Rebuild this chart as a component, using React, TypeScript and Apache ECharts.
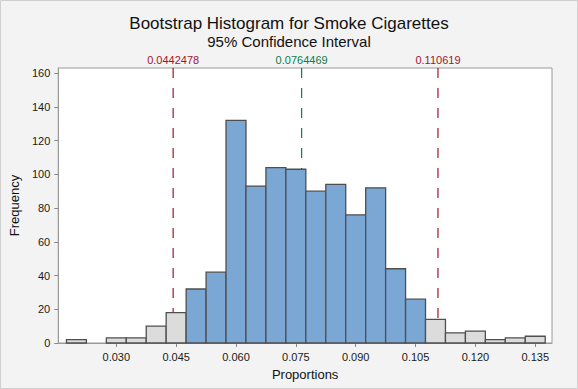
import React, { useEffect, useRef } from "react";
import * as echarts from "echarts";

const binCenters = [0.02, 0.025, 0.03, 0.035, 0.04, 0.045, 0.05, 0.055, 0.06, 0.065, 0.07, 0.075, 0.08, 0.085, 0.09, 0.095, 0.1, 0.105, 0.11, 0.115, 0.12, 0.125, 0.13, 0.135];
const counts = [2, 0, 3, 3, 10, 18, 32, 42, 132, 93, 104, 103, 90, 94, 76, 92, 44, 26, 14, 6, 7, 2, 3, 4];
const binWidth = 0.005;
const ciLower = 0.0442478;
const ciMean = 0.0764469;
const ciUpper = 0.110619;
const refValues = [ciLower, ciMean, ciUpper];
const refLabels = ["0.0442478", "0.0764469", "0.110619"];
const xTicks = [0.03, 0.045, 0.06, 0.075, 0.09, 0.105, 0.12, 0.135];
const yTicks = [0, 20, 40, 60, 80, 100, 120, 140, 160];
const titleText = "Bootstrap Histogram for Smoke Cigarettes";
const subtitleText = "95% Confidence Interval";

const FONT = "'Liberation Sans', Arial, Helvetica, sans-serif";
const RED = "#A3142E";
const GREEN = "#0E7D45";

export default function App() {
  const ref = useRef<HTMLDivElement>(null);
  useEffect(() => {
    document.body.style.margin = "0";
    const chart = echarts.init(ref.current!, null, { renderer: "svg" });
    const yMax = 163;
    chart.setOption({
      animation: false,
      backgroundColor: "#F3F3F3",
      textStyle: { fontFamily: FONT },
      graphic: [
        {
          type: "rect",
          shape: { x: 0.5, y: 0.5, width: 577, height: 388 },
          style: { fill: "none", stroke: "#D0D0D0", lineWidth: 1 },
          silent: true,
        },
        {
          type: "text",
          x: 289,
          y: 23,
          style: {
            text: titleText,
            fontSize: 17,
            fontFamily: FONT,
            fill: "#111",
            align: "center",
            verticalAlign: "middle",
          },
        },
        {
          type: "text",
          x: 289,
          y: 41.5,
          style: {
            text: subtitleText,
            fontSize: 15,
            fontFamily: FONT,
            fill: "#111",
            align: "center",
            verticalAlign: "middle",
          },
        },
      ],
      grid: {
        left: 57,
        right: 26,
        top: 68,
        bottom: 46,
        show: true,
        backgroundColor: "#FFFFFF",
        borderColor: "#9A9A9A",
        borderWidth: 1,
      },
      xAxis: {
        type: "value",
        min: 0.01545,
        max: 0.1392,
        name: "Proportions",
        nameLocation: "middle",
        nameGap: 25,
        nameTextStyle: { fontSize: 13, color: "#111", fontFamily: FONT },
        axisLine: { show: true, lineStyle: { color: "#9A9A9A" } },
        axisTick: { show: true, length: 4, lineStyle: { color: "#888" }, customValues: xTicks },
        axisLabel: {
          fontSize: 11,
          color: "#1a1a1a",
          margin: 8,
          customValues: xTicks,
          formatter: (v: number) => v.toFixed(3),
        },
        splitLine: { show: false },
      },
      yAxis: {
        type: "value",
        min: 0,
        max: yMax,
        name: "Frequency",
        nameLocation: "middle",
        nameGap: 35,
        nameTextStyle: { fontSize: 13, color: "#111", fontFamily: FONT },
        axisLine: { show: true, lineStyle: { color: "#9A9A9A" } },
        axisTick: { show: true, length: 4, lineStyle: { color: "#888" }, customValues: yTicks },
        axisLabel: { fontSize: 11, color: "#1a1a1a", margin: 8, customValues: yTicks },
        splitLine: { show: false },
      },
      series: [
        {
          type: "custom",
          z: 1,
          data: refValues.map((v, i) => [v, i]),
          renderItem: (params: any, api: any) => {
            const v = api.value(0);
            const i = api.value(1);
            const top = api.coord([v, yMax]);
            const bot = api.coord([v, 0]);
            const color = i === 1 ? GREEN : RED;
            return {
              type: "group",
              children: [
                {
                  type: "line",
                  shape: { x1: top[0], y1: top[1], x2: bot[0], y2: bot[1] },
                  style: { stroke: color, lineWidth: 1.2, lineDash: [10, 10] },
                },
                {
                  type: "text",
                  x: top[0],
                  y: top[1] - 8.5,
                  style: {
                    text: refLabels[i],
                    fill: color,
                    fontSize: 11,
                    fontFamily: FONT,
                    align: "center",
                    verticalAlign: "middle",
                  },
                },
              ],
            };
          },
        },
        {
          type: "custom",
          z: 2,
          data: binCenters.map((c, i) => [c, counts[i]]),
          renderItem: (params: any, api: any) => {
            const c = api.value(0);
            const n = api.value(1);
            if (!n) return null;
            const lo = c - binWidth / 2;
            const hi = c + binWidth / 2;
            const p0 = api.coord([lo, n]);
            const p1 = api.coord([hi, 0]);
            const inside = lo >= ciLower && hi <= ciUpper;
            return {
              type: "rect",
              shape: { x: p0[0], y: p0[1], width: p1[0] - p0[0], height: p1[1] - p0[1] },
              style: {
                fill: inside ? "#7BA7D5" : "#DCDCDC",
                stroke: "#4F4F4F",
                lineWidth: 1.3,
              },
            };
          },
        },
      ],
    });
    return () => chart.dispose();
  }, []);
  return <div ref={ref} style={{ width: 578, height: 389 }} />;
}
